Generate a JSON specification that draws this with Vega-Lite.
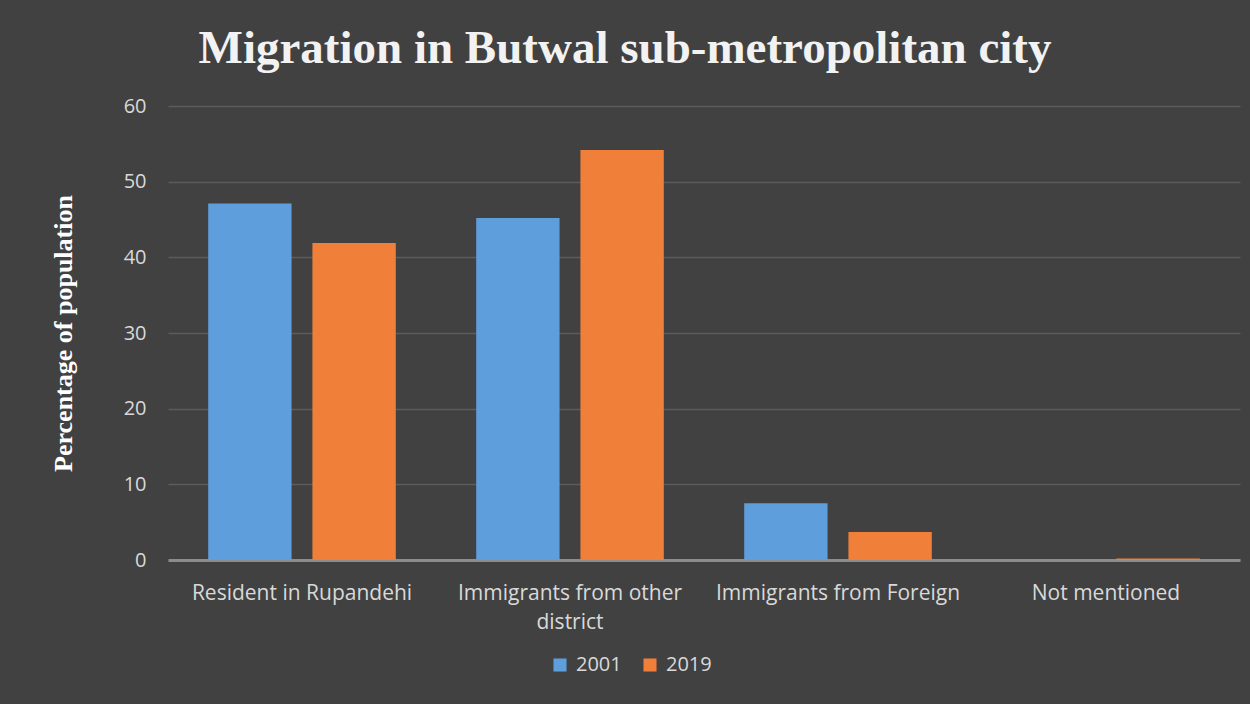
{
  "$schema": "https://vega.github.io/schema/vega-lite/v6.json",
  "width": 1072,
  "height": 454,
  "autosize": {"type": "none"},
  "padding": {"left": 168, "top": 106, "right": 10, "bottom": 144},
  "background": "#414141",
  "title": {
    "text": "Migration in Butwal sub-metropolitan city",
    "font": "Liberation Serif",
    "fontSize": 47,
    "fontWeight": "bold",
    "color": "#f2f2f2",
    "anchor": "middle",
    "frame": "group",
    "dx": -79,
    "offset": 23
  },
  "data": {
    "values": [
      {"category": "Resident in Rupandehi", "year": "2001", "value": 47.1},
      {"category": "Resident in Rupandehi", "year": "2019", "value": 41.9},
      {"category": "Immigrants from other district", "year": "2001", "value": 45.2},
      {"category": "Immigrants from other district", "year": "2019", "value": 54.2},
      {"category": "Immigrants from Foreign", "year": "2001", "value": 7.5},
      {"category": "Immigrants from Foreign", "year": "2019", "value": 3.7},
      {"category": "Not mentioned", "year": "2001", "value": 0},
      {"category": "Not mentioned", "year": "2019", "value": 0.2}
    ]
  },
  "mark": {"type": "bar"},
  "encoding": {
    "x": {
      "field": "category",
      "type": "nominal",
      "sort": null,
      "scale": {"paddingInner": 0.3, "paddingOuter": 0.15},
      "axis": {
        "title": null,
        "labelAngle": 0,
        "labelFont": "Open Sans",
        "labelFontSize": 21,
        "labelColor": "#d9d9d9",
        "labelPadding": 22,
        "labelLineHeight": 29,
        "labelLimit": 300,
        "ticks": false,
        "domainColor": "#8c8c8c",
        "domainWidth": 3,
        "labelExpr": "datum.label == 'Immigrants from other district' ? ['Immigrants from other', 'district'] : datum.label"
      }
    },
    "xOffset": {"field": "year", "scale": {"paddingInner": 0.2}},
    "y": {
      "field": "value",
      "type": "quantitative",
      "scale": {"domain": [0, 60]},
      "axis": {
        "title": "Percentage of population",
        "titleFont": "Liberation Serif",
        "titleFontSize": 26,
        "titleFontWeight": "bold",
        "titleColor": "#ffffff",
        "titlePadding": 47,
        "labelFont": "Open Sans",
        "labelFontSize": 20,
        "labelColor": "#d9d9d9",
        "labelPadding": 22,
        "values": [0, 10, 20, 30, 40, 50, 60],
        "ticks": false,
        "domain": false,
        "gridColor": "#5c5c5c",
        "gridWidth": 1.5
      }
    },
    "color": {
      "field": "year",
      "type": "nominal",
      "scale": {"domain": ["2001", "2019"], "range": ["#5f9edc", "#f07f3a"]},
      "legend": {
        "title": null,
        "orient": "none",
        "direction": "horizontal",
        "legendX": 382,
        "legendY": 549,
        "symbolType": "square",
        "symbolSize": 170,
        "symbolStrokeWidth": 0,
        "labelFont": "Open Sans",
        "labelFontSize": 20,
        "labelColor": "#d9d9d9",
        "labelOffset": 6,
        "columnPadding": 18
      }
    }
  },
  "config": {
    "view": {"stroke": null}
  }
}
